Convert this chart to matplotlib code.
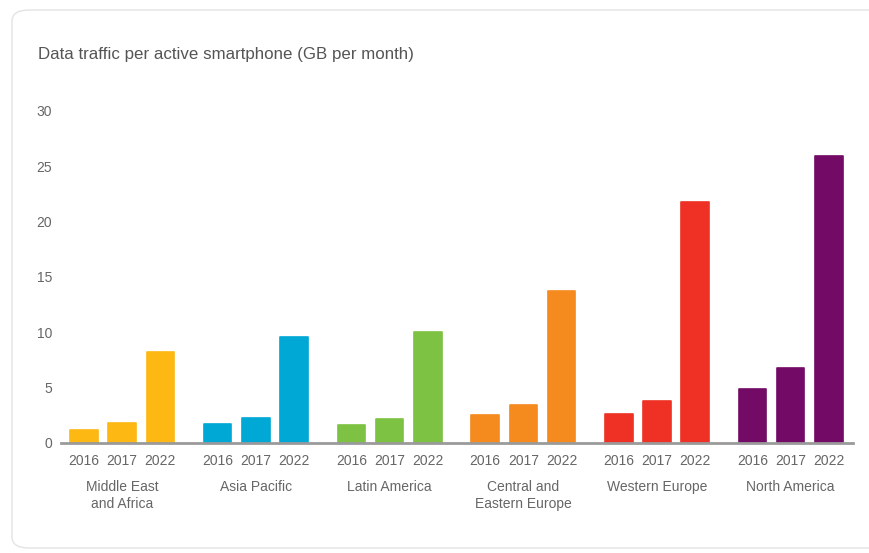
import matplotlib
matplotlib.use("Agg")
import matplotlib.pyplot as plt
from matplotlib.patches import FancyBboxPatch

plt.rcParams['font.family'] = ['Liberation Sans', 'DejaVu Sans']

# Data -------------------------------------------------------------
regions = ["Middle East\nand Africa", "Asia Pacific", "Latin America",
           "Central and\nEastern Europe", "Western Europe", "North America"]
years = ["2016", "2017", "2022"]
traffic_2016 = [1.2, 1.7, 1.6, 2.5, 2.6, 4.9]
traffic_2017 = [1.8, 2.3, 2.2, 3.4, 3.8, 6.8]
traffic_2022 = [8.2, 9.6, 10.0, 13.7, 21.8, 25.9]
colors = ["#FDB813", "#00A8D6", "#7DC242", "#F58A1F", "#EE3124", "#720A66"]

values = [traffic_2016, traffic_2017, traffic_2022]

# Figure ------------------------------------------------------------
fig = plt.figure(figsize=(8.69, 5.53), dpi=100)
W, H = 869, 553

# card background
card = FancyBboxPatch((12 / W, 5 / H), 880 / W, 538 / H,
                      boxstyle="round,pad=0,rounding_size=0.02",
                      transform=fig.transFigure, facecolor="white",
                      edgecolor="#e3e3e3", linewidth=1.0, zorder=-5)
fig.patches.append(card)

fig.text(38 / W, 1 - 54 / H, "Data traffic per active smartphone (GB per month)",
         fontsize=12.2, color="#555555", va="center", ha="left")

ax = fig.add_axes([61 / W, (H - 443) / H, (853 - 61) / W, (443 - 111) / H])
ax.set_facecolor("none")
ax.set_zorder(2)

group_step = 3.5
xticks, xlabels = [], []
for g, region in enumerate(regions):
    for i, yr in enumerate(years):
        x = g * group_step + i
        ax.bar(x, values[i][g], width=0.72, color=colors[g],
               edgecolor=colors[g], linewidth=1.2, joinstyle="round", zorder=2)
        xticks.append(x)
        xlabels.append(yr)
    ax.text(g * group_step + 1, -0.11, region, transform=ax.get_xaxis_transform(),
            ha="center", va="top", fontsize=10, color="#666666", linespacing=1.35)

ax.set_xlim(-0.6, 20.13)
ax.set_ylim(0, 30)
ax.set_xticks(xticks)
ax.set_xticklabels(xlabels)
ax.set_yticks([0, 5, 10, 15, 20, 25, 30])

for side in ["top", "right", "left"]:
    ax.spines[side].set_visible(False)
ax.spines["bottom"].set_color("#9a9a9a")
ax.spines["bottom"].set_linewidth(2)
ax.spines["bottom"].set_zorder(3)

ax.tick_params(axis="both", length=0, labelsize=10, labelcolor="#666666")
ax.tick_params(axis="x", pad=8)
ax.tick_params(axis="y", pad=6.5)

fig.savefig("out.png", dpi=100)
